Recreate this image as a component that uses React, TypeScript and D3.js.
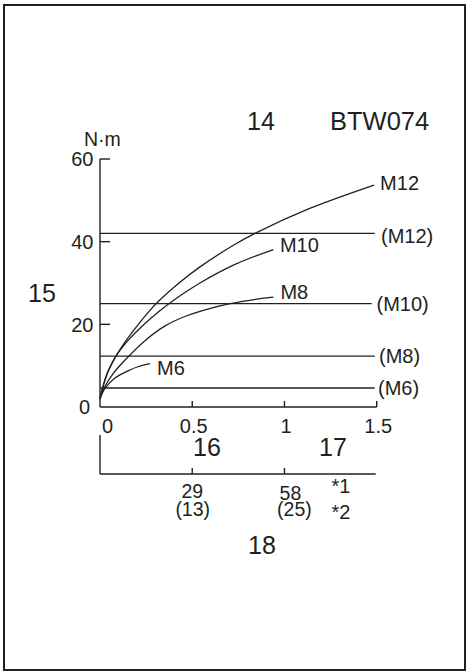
import React from 'react';
import * as d3 from 'd3';

const W = 467;
const H = 671;

// y axis (N·m)
const yTicks = [0, 20, 40, 60];
// x axis
const xTicks = [0, 0.5, 1, 1.5];
const xTickLabels = ['0', '0.5', '1', '1.5'];

// curves [x, torque]
const curveNames = ['M12', 'M10', 'M8', 'M6'];
const m12: [number, number][] = [
  [0, 2], [0.013, 4.4], [0.04, 8.2], [0.085, 12.2], [0.14, 16.0], [0.208, 20],
  [0.267, 23.2], [0.32, 25.7], [0.42, 29.7], [0.542, 33.9], [0.73, 39.3],
  [0.84, 42.0], [1.14, 48.1], [1.486, 53.7],
];
const m10: [number, number][] = [
  [0, 2], [0.013, 4.4], [0.04, 8.2], [0.085, 12.2], [0.15, 16.0], [0.244, 20.2],
  [0.316, 23.0], [0.392, 25.6], [0.542, 30.0], [0.732, 34.5], [0.94, 38.1],
];
const m8: [number, number][] = [
  [0, 2], [0.02, 4.4], [0.07, 8.0], [0.154, 12.2], [0.25, 16.3], [0.36, 19.8],
  [0.46, 21.9], [0.56, 23.4], [0.705, 25.0], [0.868, 26.2], [0.94, 26.6],
];
const m6: [number, number][] = [
  [0, 2], [0.027, 4.5], [0.081, 7.0], [0.154, 8.8], [0.21, 9.8], [0.271, 10.5],
];

// reference torque levels
const refLevels = [42, 25, 12.3, 4.6];
const refLabels = ['(M12)', '(M10)', '(M8)', '(M6)'];

// secondary scale
const secTicks = [0.5, 1];
const secTop = ['29', '58'];
const secBottom = ['(13)', '(25)'];

const INK = '#231f20';
const FONT = '"Liberation Sans", Arial, Helvetica, sans-serif';

export default function App() {
  const x = d3.scaleLinear().domain([0, 1.5]).range([100, 376.7]);
  const y = d3.scaleLinear().domain([0, 60]).range([407, 159]);
  const line = d3
    .line<[number, number]>()
    .x((d) => x(d[0]))
    .y((d) => y(d[1]))
    .curve(d3.curveCatmullRom.alpha(0.5));

  const curves = [m12, m10, m8, m6];
  const curveLabelDx = [6, 6.5, 7, 7];
  const curveLabelDy = [5, 2, 2, 11.5];
  const refEnd = [374.7, 371.7, 374.7, 374.7];
  const refLabelX = [381, 376.5, 379, 378];
  const refLabelDy = [9.5, 7.3, 7, 7.2];
  const secTopDx = [0, 6];
  const secBotDx = [0.5, 10];

  const secY = 474;

  return (
    <svg
      width={W}
      height={H}
      style={{ position: 'absolute', left: 0, top: 0, background: '#fff' }}
      fontFamily={FONT}
    >
      <rect x={0} y={0} width={W} height={H} fill="#fff" />
      <rect x={4} y={5} width={461} height={665} fill="none" stroke={INK} strokeWidth={2} />

      {/* titles */}
      <text x={247} y={129.5} fontSize={25} fill={INK}>14</text>
      <text x={330} y={129.5} fontSize={25.5} fill={INK}>BTW074</text>
      <text x={84} y={145.5} fontSize={19.5} fill={INK}>N·m</text>
      <text x={28} y={301.5} fontSize={25} fill={INK}>15</text>

      {/* y axis */}
      <line x1={x(0)} x2={x(0)} y1={y(60)} y2={y(0)} stroke={INK} strokeWidth={1.4} />
      {yTicks.filter((v) => v > 0).map((v) => (
        <line key={'yt' + v} x1={x(0)} x2={x(0) + 10} y1={y(v)} y2={y(v)} stroke={INK} strokeWidth={1.4} />
      ))}
      {yTicks.map((v) => (
        <text
          key={'yl' + v}
          x={v === 0 ? 90 : 93.5}
          y={y(v) + 7.3}
          fontSize={20}
          textAnchor="end"
          fill={INK}
        >
          {v}
        </text>
      ))}

      {/* x axis */}
      <line x1={x(0)} x2={x(1.5)} y1={y(0)} y2={y(0)} stroke={INK} strokeWidth={1.4} />
      {xTicks.filter((v) => v > 0).map((v) => (
        <line key={'xt' + v} x1={x(v)} x2={x(v)} y1={y(0)} y2={y(0) - 6} stroke={INK} strokeWidth={1.4} />
      ))}
      {xTicks.map((v, i) => (
        <text
          key={'xl' + v}
          x={x(v) + (v === 0 ? 7.5 : 1.5)}
          y={432.5}
          fontSize={20}
          textAnchor="middle"
          fill={INK}
        >
          {xTickLabels[i]}
        </text>
      ))}

      {/* reference lines */}
      {refLevels.map((v, i) => (
        <g key={'ref' + i}>
          <line x1={x(0)} x2={refEnd[i]} y1={y(v)} y2={y(v)} stroke={INK} strokeWidth={1.4} />
          <text x={refLabelX[i]} y={y(v) + refLabelDy[i]} fontSize={20} fill={INK}>
            {refLabels[i]}
          </text>
        </g>
      ))}

      {/* curves */}
      {curves.map((c, i) => {
        const last = c[c.length - 1];
        return (
          <g key={'c' + i}>
            <path d={line(c) || ''} fill="none" stroke={INK} strokeWidth={1.3} strokeLinejoin="round" />
            <text
              x={x(last[0]) + curveLabelDx[i]}
              y={y(last[1]) + curveLabelDy[i]}
              fontSize={20}
              fill={INK}
            >
              {curveNames[i]}
            </text>
          </g>
        );
      })}

      {/* section labels */}
      <text x={193} y={456} fontSize={25} fill={INK}>16</text>
      <text x={319} y={456} fontSize={25} fill={INK}>17</text>

      {/* secondary scale */}
      <line x1={x(0)} x2={x(0)} y1={435} y2={secY} stroke={INK} strokeWidth={1.4} />
      <line x1={x(0)} x2={x(1.5) - 1} y1={secY} y2={secY} stroke={INK} strokeWidth={1.4} />
      {secTicks.map((v, i) => (
        <g key={'st' + i}>
          <line x1={x(v)} x2={x(v)} y1={secY} y2={secY - 6} stroke={INK} strokeWidth={1.4} />
          <text x={x(v) + secTopDx[i]} y={498 + i * 1.5} fontSize={19.5} textAnchor="middle" fill={INK}>
            {secTop[i]}
          </text>
          <text x={x(v) + secBotDx[i]} y={516} fontSize={19.5} textAnchor="middle" fill={INK}>
            {secBottom[i]}
          </text>
        </g>
      ))}
      <text x={331.5} y={493} fontSize={20} fill={INK}>*1</text>
      <text x={331.5} y={519} fontSize={20} fill={INK}>*2</text>
      <text x={248} y={553.5} fontSize={25} fill={INK}>18</text>
    </svg>
  );
}
